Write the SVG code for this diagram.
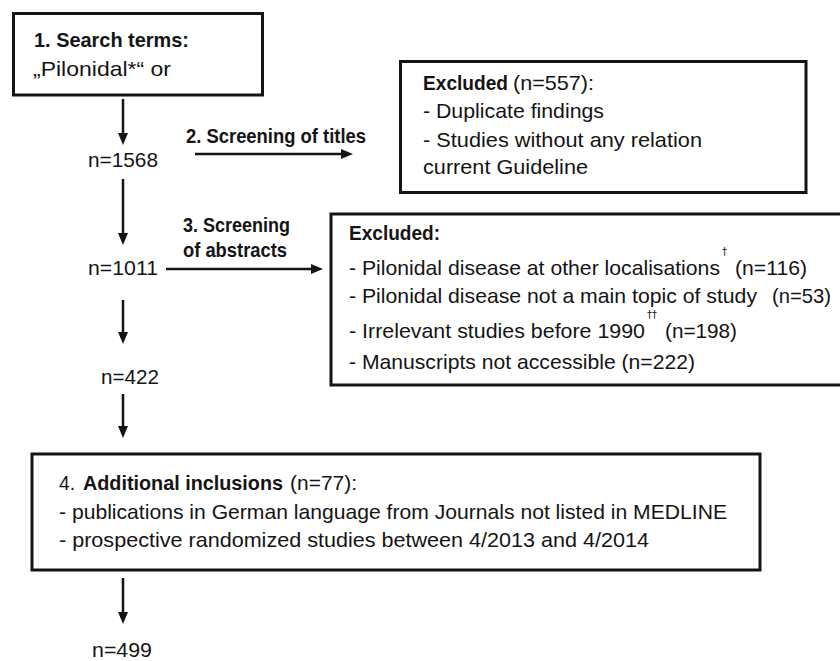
<svg xmlns="http://www.w3.org/2000/svg" width="840" height="661" viewBox="0 0 840 661">
<defs>
<style>
.t{font-family:"Liberation Sans",Arial,sans-serif;font-size:21px;fill:#141414}
.b{font-weight:bold}
.s{font-family:"DejaVu Sans","Liberation Sans",sans-serif;font-size:10px;fill:#141414}
.box{fill:#fff;stroke:#141414;stroke-width:3}
.c{stroke:#141414;stroke-width:2.5;fill:none;marker-end:url(#ah)}
</style>
<marker id="ah" viewBox="0 0 12 10" refX="0" refY="5" markerWidth="12" markerHeight="10" markerUnits="userSpaceOnUse" orient="auto">
<path d="M0,0 L12,5 L0,10 z" fill="#141414"/>
</marker>
</defs>
<rect width="840" height="661" fill="#fff"/>
<g id="connectors">
<line class="c" x1="123" y1="99" x2="123" y2="133"/>
<line class="c" x1="123" y1="179" x2="123" y2="233"/>
<line class="c" x1="123" y1="300" x2="123" y2="332"/>
<line class="c" x1="123" y1="394" x2="123" y2="426"/>
<line class="c" x1="123" y1="578" x2="123" y2="612"/>
<line class="c" x1="195" y1="154" x2="341" y2="154"/>
<line class="c" x1="166" y1="269" x2="311" y2="269"/>
<text class="t b" x="186" y="143" textLength="180" lengthAdjust="spacingAndGlyphs">2. Screening of titles</text>
<text class="t b" x="183" y="232" textLength="107" lengthAdjust="spacingAndGlyphs">3. Screening</text>
<text class="t b" x="183" y="257" textLength="104" lengthAdjust="spacingAndGlyphs">of abstracts</text>
</g>
<g id="search">
<rect class="box" x="13.5" y="13.5" width="249" height="81.5"/>
<text class="t b" x="34" y="47" textLength="155" lengthAdjust="spacingAndGlyphs">1. Search terms:</text>
<text class="t" x="33" y="76" textLength="138" lengthAdjust="spacingAndGlyphs">„Pilonidal*“ or</text>
</g>
<g id="n1568"><text class="t" x="88" y="166.5" textLength="70" lengthAdjust="spacingAndGlyphs">n=1568</text></g>
<g id="excluded1">
<rect class="box" x="400.5" y="61.5" width="405.5" height="131"/>
<text class="t b" x="423" y="90" textLength="85" lengthAdjust="spacingAndGlyphs">Excluded</text>
<text class="t" x="513" y="90" textLength="81" lengthAdjust="spacingAndGlyphs">(n=557):</text>
<text class="t" x="423" y="118" textLength="181" lengthAdjust="spacingAndGlyphs">- Duplicate findings</text>
<text class="t" x="423" y="147" textLength="279" lengthAdjust="spacingAndGlyphs">- Studies without any relation</text>
<text class="t" x="423" y="174" textLength="165" lengthAdjust="spacingAndGlyphs">current Guideline</text>
</g>
<g id="n1011"><text class="t" x="88" y="275" textLength="70" lengthAdjust="spacingAndGlyphs">n=1011</text></g>
<g id="excluded2">
<rect class="box" x="331" y="214" width="520" height="171"/>
<text class="t b" x="349" y="240" textLength="91" lengthAdjust="spacingAndGlyphs">Excluded:</text>
<text class="t" x="349" y="275" textLength="371" lengthAdjust="spacingAndGlyphs">- Pilonidal disease at other localisations</text>
<text class="s" x="722" y="255">†</text>
<text class="t" x="735" y="275" textLength="72" lengthAdjust="spacingAndGlyphs">(n=116)</text>
<text class="t" x="349" y="303" textLength="408" lengthAdjust="spacingAndGlyphs">- Pilonidal disease not a main topic of study</text>
<text class="t" x="772" y="303" textLength="59" lengthAdjust="spacingAndGlyphs">(n=53)</text>
<text class="t" x="349" y="338" textLength="296" lengthAdjust="spacingAndGlyphs">- Irrelevant studies before 1990</text>
<text class="s" x="647" y="318">††</text>
<text class="t" x="665" y="338" textLength="72" lengthAdjust="spacingAndGlyphs">(n=198)</text>
<text class="t" x="349" y="369" textLength="346" lengthAdjust="spacingAndGlyphs">- Manuscripts not accessible (n=222)</text>
</g>
<g id="n422"><text class="t" x="101" y="384" textLength="58" lengthAdjust="spacingAndGlyphs">n=422</text></g>
<g id="additional">
<rect class="box" x="32" y="454" width="728" height="116"/>
<text class="t" x="59" y="490" textLength="16" lengthAdjust="spacingAndGlyphs">4.</text>
<text class="t b" x="83" y="490" textLength="200" lengthAdjust="spacingAndGlyphs">Additional inclusions</text>
<text class="t" x="290" y="490" textLength="67" lengthAdjust="spacingAndGlyphs">(n=77):</text>
<text class="t" x="59" y="519" textLength="668" lengthAdjust="spacingAndGlyphs">- publications in German language from Journals not listed in MEDLINE</text>
<text class="t" x="59" y="547" textLength="590" lengthAdjust="spacingAndGlyphs">- prospective randomized studies between 4/2013 and 4/2014</text>
</g>
<g id="n499"><text class="t" x="92" y="657" textLength="60" lengthAdjust="spacingAndGlyphs">n=499</text></g>
</svg>
